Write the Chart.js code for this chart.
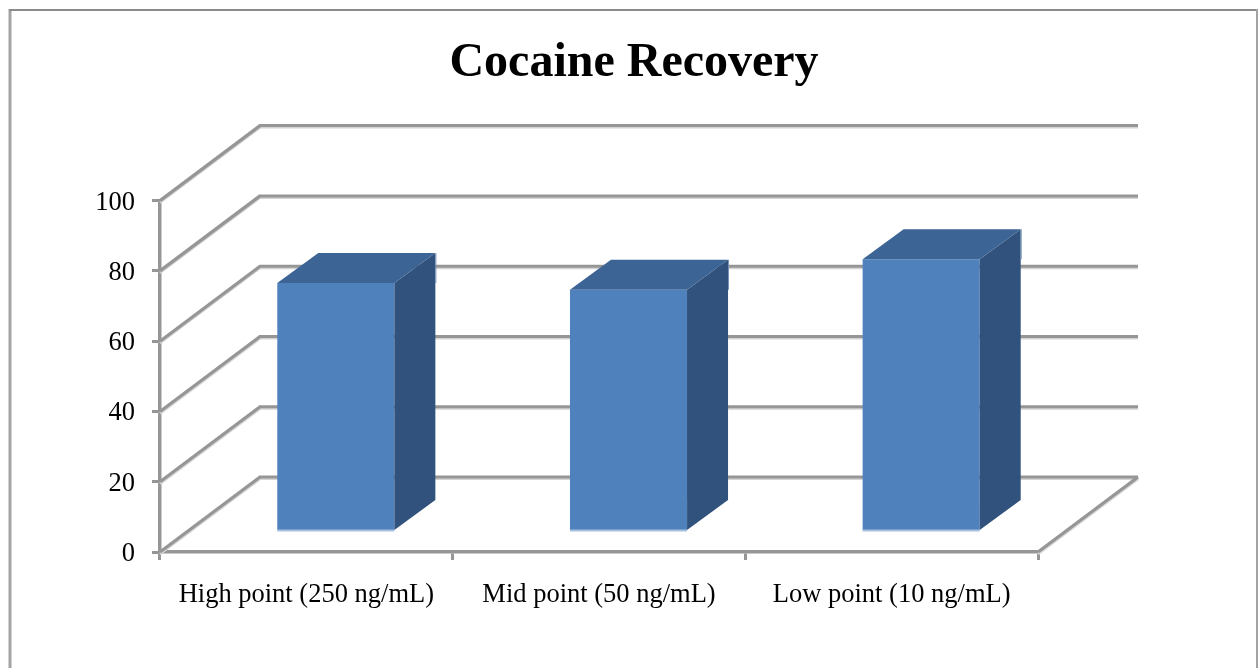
<!DOCTYPE html>
<html>
<head>
<meta charset="utf-8">
<title>Cocaine Recovery</title>
<script src="https://cdn.jsdelivr.net/npm/chart.js@4"></script>
<style>
	html, body { margin: 0; padding: 0; background: #fff; }
	canvas { display: block; }
</style>
</head>
<body>
<canvas id="myChart" width="1259" height="668"></canvas>
<script>
	const categories = ["High point (250 ng/mL)", "Mid point (50 ng/mL)", "Low point (10 ng/mL)"];
	const recovery = [70.7, 68.8, 77.5];
	const yMin = 0;
	const yMax = 100;
	const yStep = 20;

	// 3D look: wall offset, where bars stand on the floor, bar depth
	const wall = { dx: 100, dy: -75 };
	const floor = { dx: 29.5, dy: -20.5 };
	const depth = { dx: 41, dy: -30 };

	const lineGrey = "#969696";
	const lineShade = "#d4d4d4";

	function strokeLine(ctx, x1, y1, x2, y2, color, width) {
		ctx.strokeStyle = color;
		ctx.lineWidth = width;
		ctx.beginPath();
		ctx.moveTo(x1, y1);
		ctx.lineTo(x2, y2);
		ctx.stroke();
	}

	function fillPoly(ctx, color, pts) {
		ctx.fillStyle = color;
		ctx.beginPath();
		pts.forEach((p, i) => (i ? ctx.lineTo(p[0], p[1]) : ctx.moveTo(p[0], p[1])));
		ctx.closePath();
		ctx.fill();
	}

	// Outer frame and the receding gridlines
	const wallsPlugin = {
		id: "walls",
		beforeDraw(chart) {
			// value labels sit a little below their ticks
			chart.scales.y.getLabelItems().forEach((item) => {
				if (!item.moved) {
					item.options.translation[1] += 2;
					item.moved = true;
				}
			});
		},
		beforeDatasetsDraw(chart) {
			const { ctx, chartArea: area, scales } = chart;
			ctx.save();
			ctx.lineCap = "butt";

			// frame
			strokeLine(ctx, 10, 9, 10, 668, "#a3a3a3", 3);
			strokeLine(ctx, 9, 10, 1258, 10, "#8c8c8c", 2);
			strokeLine(ctx, 1257, 9, 1257, 668, "#a3a3a3", 2);

			scales.y.ticks.forEach((tick) => {
				const y = scales.y.getPixelForValue(tick.value);
				const backX = area.left + wall.dx;
				const backY = y + wall.dy;
				strokeLine(ctx, backX, backY + 2, area.right + wall.dx, backY + 2, lineShade, 2);
				strokeLine(ctx, area.left, y + 2, backX, backY + 2, lineShade, 2.4);
				strokeLine(ctx, area.left, y, backX, backY, lineGrey, 3.2);
				strokeLine(ctx, backX - 1, backY, area.right + wall.dx, backY, lineGrey, 3);
			});

			// floor edge on the right
			const y0 = scales.y.getPixelForValue(yMin);
			strokeLine(ctx, area.right, y0 + 2, area.right + wall.dx, y0 + wall.dy + 2, lineShade, 2.4);
			strokeLine(ctx, area.right, y0, area.right + wall.dx, y0 + wall.dy, lineGrey, 3.2);
			ctx.restore();
		},
	};

	// Bars are drawn by the library, moved onto the floor, then get their side and top
	const boxPlugin = {
		id: "boxes",
		beforeDatasetDraw(chart) {
			chart.ctx.save();
			chart.ctx.translate(floor.dx, floor.dy);
		},
		afterDatasetDraw(chart, args) {
			const ctx = chart.ctx;
			args.meta.data.forEach((bar) => {
				const left = bar.x - bar.width / 2;
				const right = bar.x + bar.width / 2;
				const top = bar.y;
				const bottom = bar.base;

				fillPoly(ctx, "#31527c", [
					[right, top],
					[right + depth.dx, top + depth.dy],
					[right + depth.dx, bottom + depth.dy],
					[right, bottom],
				]);
				fillPoly(ctx, "#3c6494", [
					[left, top],
					[left + depth.dx, top + depth.dy],
					[right + depth.dx, top + depth.dy],
					[right, top],
				]);
				strokeLine(ctx, left, bottom + 0.5, right, bottom + 0.5, "#a7c0de", 2);
				strokeLine(ctx, right + depth.dx + 0.5, top + depth.dy, right + depth.dx + 0.5, top, "#7392b8", 1);
			});
			ctx.restore();
		},
	};

	new Chart(document.getElementById("myChart"), {
		type: "bar",
		data: {
			labels: categories,
			datasets: [
				{
					data: recovery,
					backgroundColor: "#4f81bd",
					barPercentage: 0.4,
					categoryPercentage: 1,
					clip: false,
				},
			],
		},
		plugins: [wallsPlugin, boxPlugin],
		options: {
			responsive: false,
			animation: false,
			layout: { padding: { left: 9, right: 0, top: 0, bottom: 0 } },
			plugins: {
				legend: { display: false },
				tooltip: { enabled: false },
				title: {
					display: true,
					text: "Cocaine Recovery",
					color: "#000",
					font: { family: "Liberation Serif", size: 48, weight: "bold" },
					padding: { top: 35, bottom: 108 },
				},
			},
			scales: {
				x: {
					offset: true,
					afterFit: (scale) => {
						scale.height = 116;
					},
					grid: {
						drawOnChartArea: false,
						color: lineGrey,
						lineWidth: 3,
						tickLength: 8,
						offset: true,
					},
					border: { color: lineGrey, width: 3.5 },
					ticks: {
						color: "#000",
						padding: 19,
						maxRotation: 0,
						font: { family: "Liberation Serif", size: 26.5 },
					},
				},
				y: {
					min: yMin,
					max: yMax,
					afterFit: (scale) => {
						scale.width = 151;
					},
					grid: {
						drawOnChartArea: false,
						color: lineGrey,
						lineWidth: 3,
						tickLength: 8,
					},
					border: { color: lineGrey, width: 3.5 },
					ticks: {
						stepSize: yStep,
						color: "#000",
						padding: 17,
						font: { family: "Liberation Serif", size: 26.5 },
					},
				},
				// empty axis, only keeps the plot clear of the right side
				spacer: {
					position: "right",
					afterFit: (scale) => {
						scale.width = 221;
					},
					grid: { display: false },
					border: { display: false },
					ticks: { display: false },
				},
			},
		},
	});
</script>
</body>
</html>
